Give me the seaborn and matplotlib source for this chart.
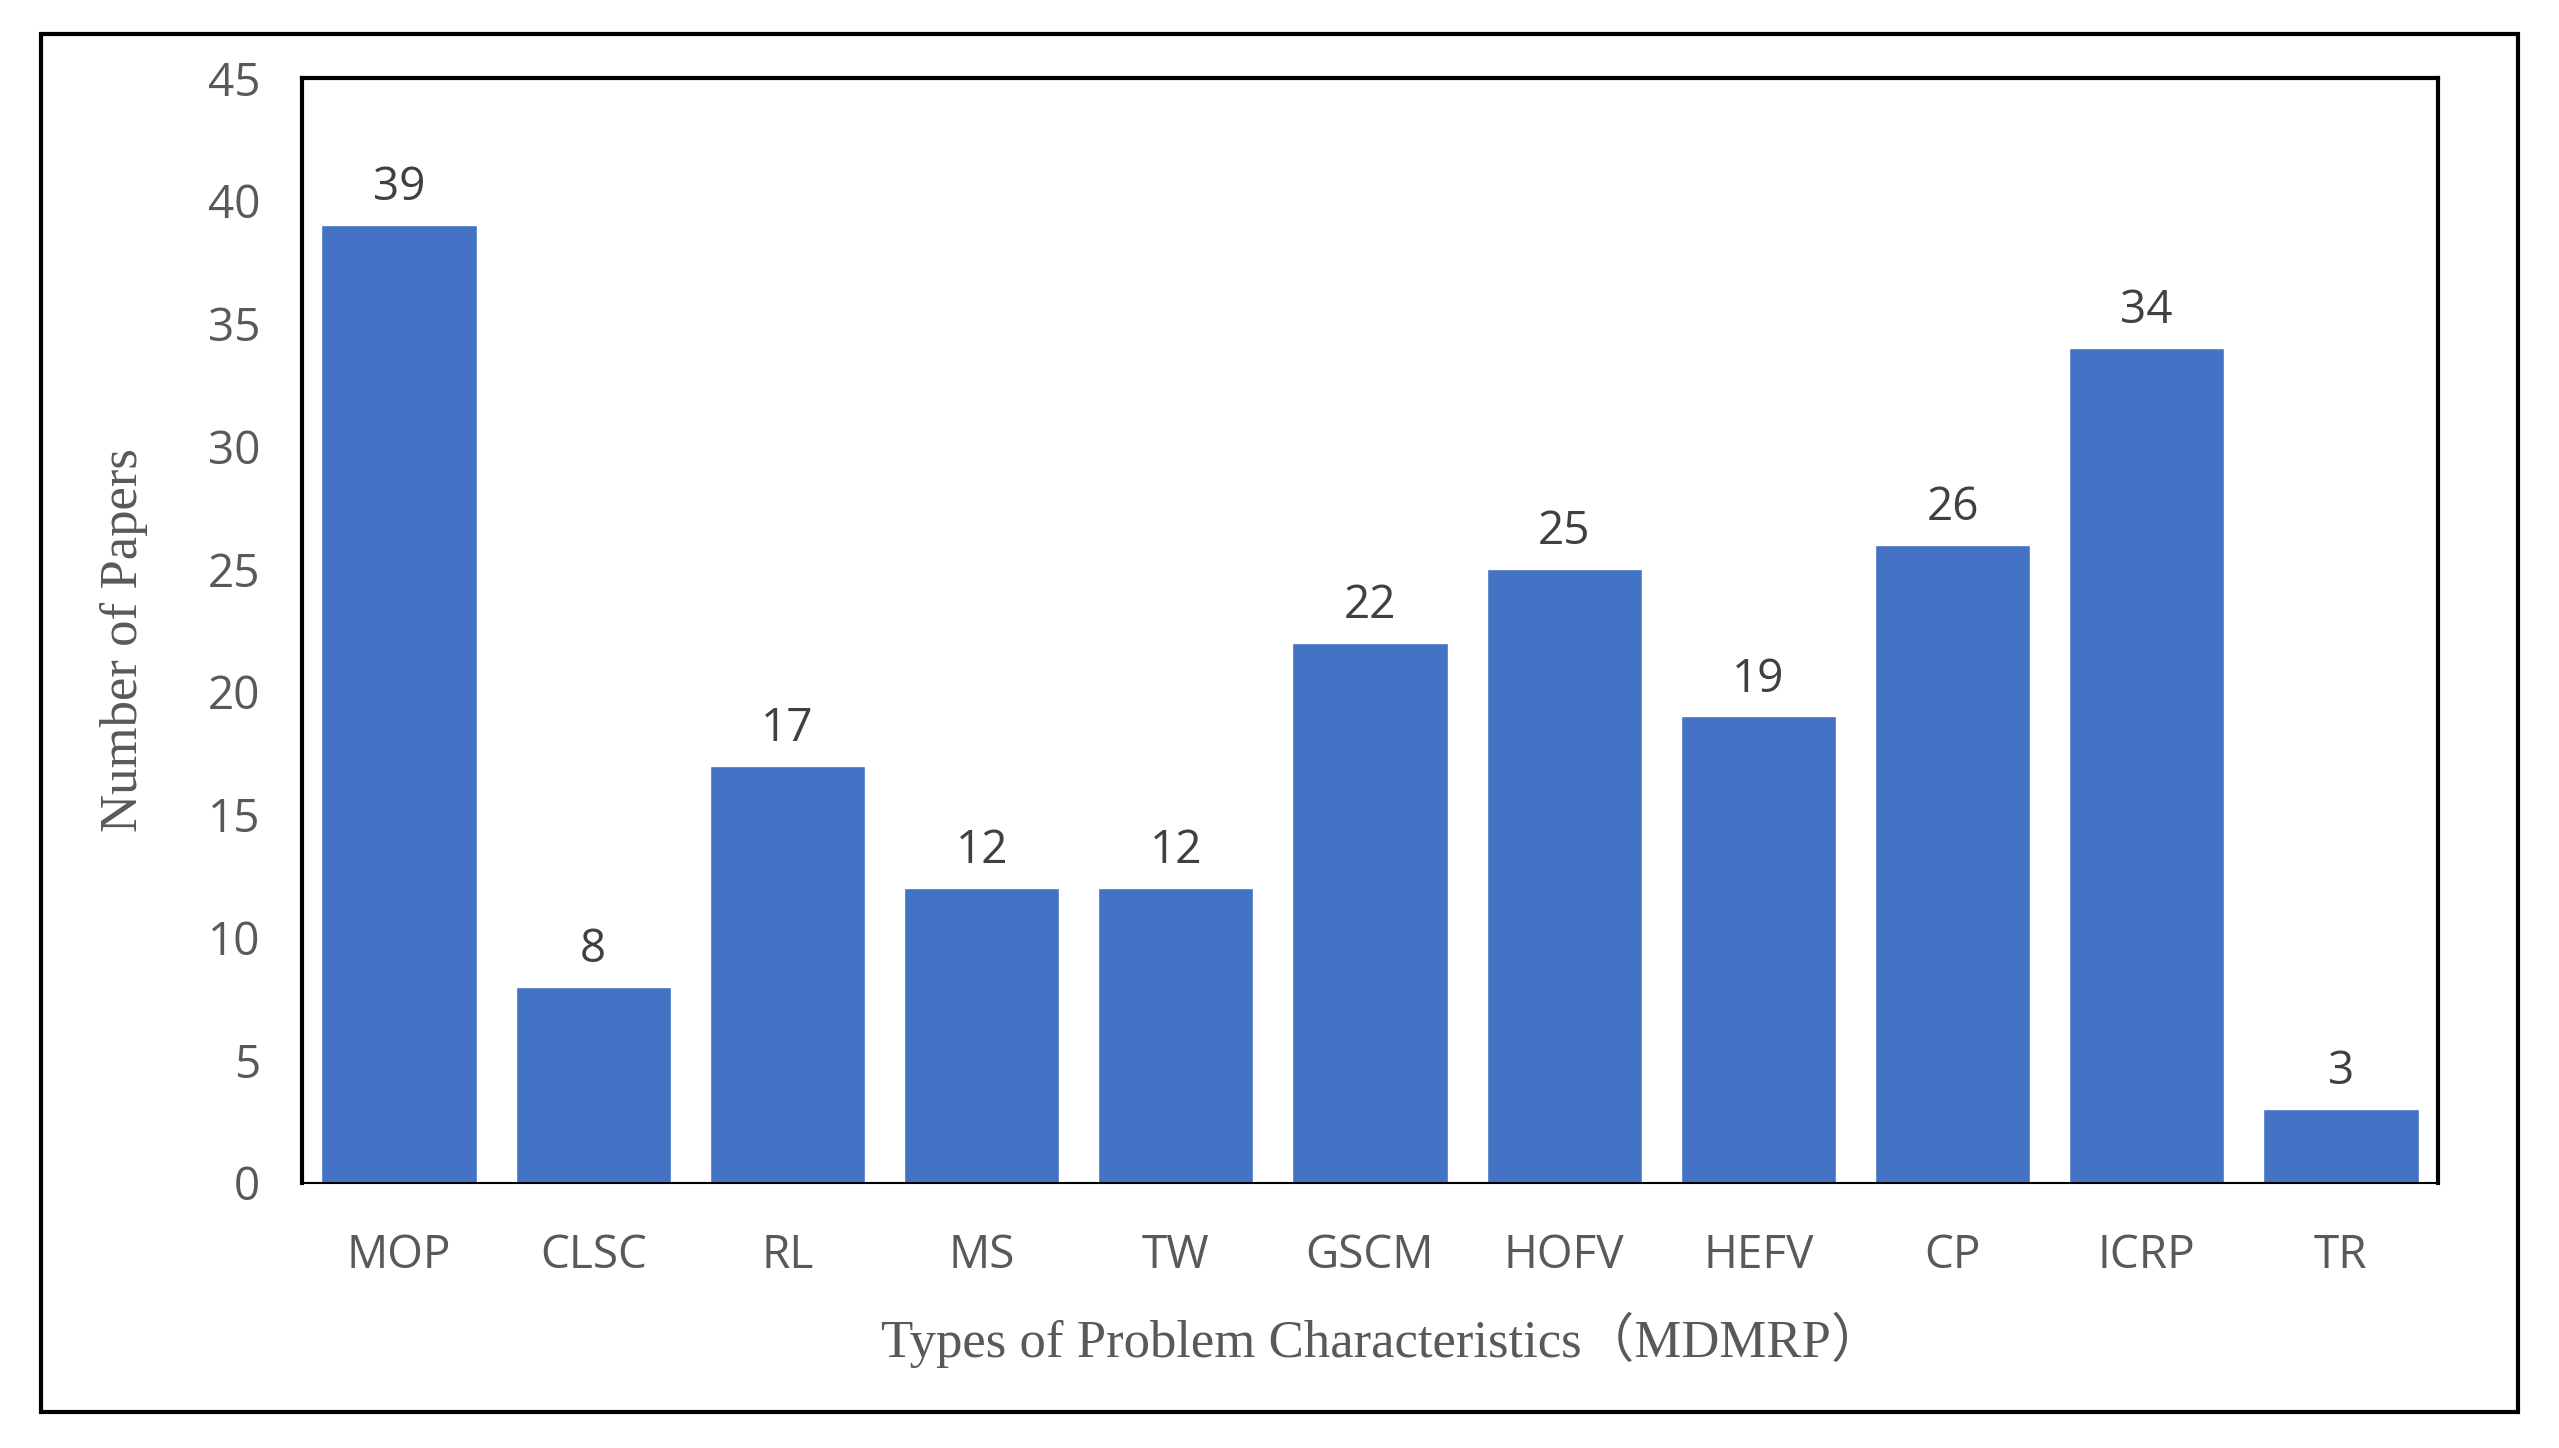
import matplotlib
matplotlib.use("Agg")
import matplotlib.pyplot as plt
import seaborn as sns
import pandas as pd
from matplotlib.patches import Rectangle

categories = ["MOP", "CLSC", "RL", "MS", "TW", "GSCM", "HOFV", "HEFV", "CP", "ICRP", "TR"]
counts = [39, 8, 17, 12, 12, 22, 25, 19, 26, 34, 3]
yticks = [0, 5, 10, 15, 20, 25, 30, 35, 40, 45]

df = pd.DataFrame({"cat": categories, "n": counts})

sns.set_theme(style="white")
plt.rcParams['font.family'] = ['Open Sans', 'DejaVu Sans']

W, H = 2559, 1448
fig = plt.figure(figsize=(W / 100, H / 100), dpi=100)
ax = fig.add_axes([302 / W, 1 - 1183 / H, (2438 - 302) / W, (1183 - 78) / H])

sns.barplot(data=df, x="cat", y="n", color="#4472C4", width=0.8, saturation=1, ax=ax)

ax.set_ylim(0, 45)
ax.set_yticks(yticks)
ax.set_xlim(-0.5, len(categories) - 0.5)
ax.tick_params(axis="both", length=0, labelsize=33, labelcolor="#595959")
ax.tick_params(axis="y", pad=30)
ax.tick_params(axis="x", pad=36)

for i, v in enumerate(counts):
    ax.annotate(str(v), (i, v), xytext=(0, 10), textcoords="offset points",
                ha="center", va="bottom", fontsize=33, color="#404040")

for s in ["top", "left", "right"]:
    ax.spines[s].set_color("black")
    ax.spines[s].set_linewidth(3)
ax.spines["bottom"].set_color("black")
ax.spines["bottom"].set_linewidth(1.5)

serif = ['Liberation Serif', 'Noto Sans CJK SC']
ax.set_xlabel("Types of Problem Characteristics（MDMRP）", fontsize=38,
              color="#595959", family=serif, va="center")
ax.xaxis.set_label_coords((1382 - 302) / (2438 - 302), (1183 - 1340) / (1183 - 78))
ax.set_ylabel("Number of Papers", fontsize=38, color="#595959", family=serif,
              va="center", rotation=90)
ax.yaxis.set_label_coords((124 - 302) / (2438 - 302), (1183 - 640) / (1183 - 78))

fig.patches.append(Rectangle((41 / W, 1 - 1412 / H), (2518 - 41) / W, (1412 - 34) / H,
                             transform=fig.transFigure, fill=False,
                             edgecolor="black", linewidth=3))

fig.savefig("out.png", dpi=100, facecolor="white")
